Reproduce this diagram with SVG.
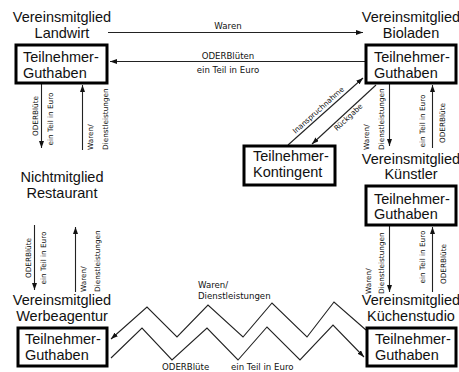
<svg xmlns="http://www.w3.org/2000/svg" width="459" height="372" viewBox="0 0 459 372">
<style>
.t{font-family:"Liberation Sans",Arial,sans-serif;font-size:14.5px;fill:#111}
.c{text-anchor:middle}
.s{font-family:"DejaVu Sans",sans-serif;font-size:8.6px;fill:#111}
.r{font-family:"DejaVu Sans",sans-serif;font-size:7.3px;fill:#111}
.b{fill:#fff;stroke:#000;stroke-width:3}
.l{fill:none;stroke:#222;stroke-width:1.1}
</style>
<defs>
<marker id="a" viewBox="0 0 7 5" refX="7" refY="2.5" markerWidth="7" markerHeight="5" orient="auto" markerUnits="userSpaceOnUse"><path d="M0,0 L7,2.5 L0,5 z" fill="#111"/></marker>
</defs>
<rect width="459" height="372" fill="#fff"/>
<g id="connectors">
<line class="l" x1="108" y1="32.5" x2="363" y2="32.5" marker-end="url(#a)"/>
<line class="l" x1="365" y1="61.5" x2="110" y2="61.5" marker-end="url(#a)"/>
<text class="s c" x="228" y="29">Waren</text>
<text class="s c" x="228" y="59">ODERBlüten</text>
<text class="s c" x="228" y="73">ein Teil in Euro</text>
<line class="l" x1="41.5" y1="84" x2="41.5" y2="148" marker-end="url(#a)"/>
<line class="l" x1="82.5" y1="150" x2="82.5" y2="85" marker-end="url(#a)"/>
<text class="r c" transform="translate(37.5,116) rotate(-90)">ODERBlüte</text>
<text class="r c" transform="translate(53,119) rotate(-90)">ein Teil in Euro</text>
<text class="r" transform="translate(93,150) rotate(-90)">Waren/</text>
<text class="r" transform="translate(108,150) rotate(-90)">Dienstleistungen</text>
<line class="l" x1="34.5" y1="225" x2="34.5" y2="290" marker-end="url(#a)"/>
<line class="l" x1="75.5" y1="292" x2="75.5" y2="227" marker-end="url(#a)"/>
<text class="r c" transform="translate(30.5,258) rotate(-90)">ODERBlüte</text>
<text class="r c" transform="translate(46,258) rotate(-90)">ein Teil in Euro</text>
<text class="r" transform="translate(86,292) rotate(-90)">Waren/</text>
<text class="r" transform="translate(99.5,292) rotate(-90)">Dienstleistungen</text>
<line class="l" x1="389.5" y1="84" x2="389.5" y2="146" marker-end="url(#a)"/>
<line class="l" x1="432.5" y1="148" x2="432.5" y2="85" marker-end="url(#a)"/>
<text class="r" transform="translate(369,150) rotate(-90)">Waren/</text>
<text class="r" transform="translate(383.5,150) rotate(-90)">Dienstleistungen</text>
<text class="r c" transform="translate(425,121) rotate(-90)">ein Teil in Euro</text>
<text class="r c" transform="translate(445,123) rotate(-90)">ODERBlüte</text>
<line class="l" x1="389.5" y1="226" x2="389.5" y2="292" marker-end="url(#a)"/>
<line class="l" x1="432.5" y1="292" x2="432.5" y2="227" marker-end="url(#a)"/>
<text class="r" transform="translate(371,294) rotate(-90)">Waren/</text>
<text class="r" transform="translate(383.5,294) rotate(-90)">Dienstleistungen</text>
<text class="r c" transform="translate(425,257) rotate(-90)">ein Teil in Euro</text>
<text class="r c" transform="translate(445.5,264) rotate(-90)">ODERBlüte</text>
<line class="l" x1="288" y1="145" x2="363" y2="78" marker-end="url(#a)"/>
<line class="l" x1="376" y1="85" x2="312" y2="144" marker-end="url(#a)"/>
<text class="r c" transform="translate(320,112) rotate(-42)">Inanspruchnahme</text>
<text class="r c" transform="translate(350,119) rotate(-43)">Rückgabe</text>
<polyline class="l" points="366,330 334,302 307,337 272,303 243,337 208,305 177,337 147,307 111,339" marker-end="url(#a)"/>
<polyline class="l" points="111,358 142,328 172,360 207,328 238,360 267,327 300,360 333,325 364,357" marker-end="url(#a)"/>
<text class="s" x="198" y="288">Waren/</text>
<text class="s" x="198" y="299">Dienstleistungen</text>
<text class="s" x="162" y="370">ODERBlüte</text>
<text class="s" x="231" y="370">ein Teil in Euro</text>
</g>
<g id="landwirt">
<text class="t c" x="62" y="22">Vereinsmitglied</text>
<text class="t c" x="62" y="38">Landwirt</text>
<rect class="b" x="16" y="45" width="91" height="38"/>
<text class="t" x="23" y="62">Teilnehmer-</text>
<text class="t" x="23" y="78">Guthaben</text>
</g>
<g id="bioladen">
<text class="t c" x="411" y="22">Vereinsmitglied</text>
<text class="t c" x="411" y="38">Bioladen</text>
<rect class="b" x="366" y="45" width="90" height="38"/>
<text class="t" x="374" y="62">Teilnehmer-</text>
<text class="t" x="374" y="78">Guthaben</text>
</g>
<g id="kontingent">
<rect class="b" x="244" y="146" width="91" height="39"/>
<text class="t" x="253" y="161">Teilnehmer-</text>
<text class="t" x="253" y="177">Kontingent</text>
</g>
<g id="restaurant">
<text class="t c" x="62" y="182">Nichtmitglied</text>
<text class="t c" x="62" y="198">Restaurant</text>
</g>
<g id="kuenstler">
<text class="t c" x="411" y="164">Vereinsmitglied</text>
<text class="t c" x="411" y="179">Künstler</text>
<rect class="b" x="366" y="186" width="90" height="39"/>
<text class="t" x="374" y="204">Teilnehmer-</text>
<text class="t" x="374" y="219">Guthaben</text>
</g>
<g id="werbeagentur">
<text class="t c" x="62" y="305">Vereinsmitglied</text>
<text class="t c" x="62" y="321">Werbeagentur</text>
<rect class="b" x="18" y="328" width="89" height="38"/>
<text class="t" x="25" y="344">Teilnehmer-</text>
<text class="t" x="25" y="360">Guthaben</text>
</g>
<g id="kuechenstudio">
<text class="t c" x="411" y="305">Vereinsmitglied</text>
<text class="t c" x="411" y="321">Küchenstudio</text>
<rect class="b" x="367" y="328" width="89" height="38"/>
<text class="t" x="375" y="344">Teilnehmer-</text>
<text class="t" x="375" y="360">Guthaben</text>
</g>
</svg>
